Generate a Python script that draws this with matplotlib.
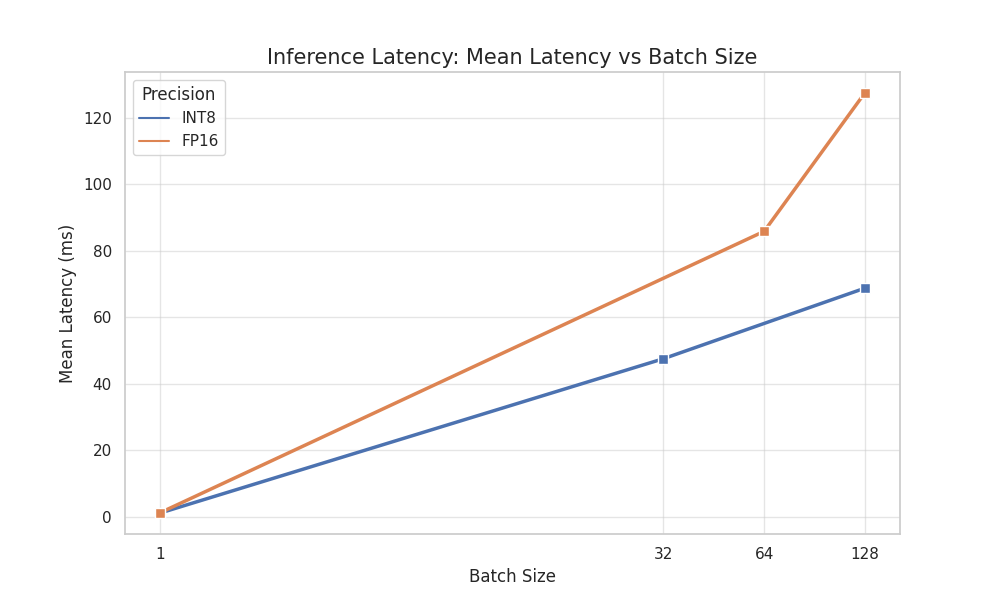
import matplotlib
matplotlib.use("Agg")
import matplotlib.pyplot as plt
import seaborn as sns
from matplotlib.lines import Line2D

sns.set_theme(style="whitegrid")

# Data
int8_batch = [1, 32, 128]
int8_latency = [1.2, 47.6, 68.8]
fp16_batch = [1, 64, 128]
fp16_latency = [1.3, 85.9, 127.5]
tick_batches = [1, 32, 64, 128]

palette = sns.color_palette("deep")
colors = {"INT8": palette[0], "FP16": palette[1]}

fig, ax = plt.subplots(figsize=(10, 6), dpi=100)

for name, xs, ys in [("INT8", int8_batch, int8_latency),
                     ("FP16", fp16_batch, fp16_latency)]:
    ax.plot(xs, ys, color=colors[name], linewidth=2.5, marker="s",
            markersize=7, markeredgecolor="white", markeredgewidth=1,
            label=name)

ax.set_xscale("log", base=2)
ax.set_xticks(tick_batches)
ax.set_xticklabels([str(b) for b in tick_batches])
ax.minorticks_off()
ax.grid(True, alpha=0.5)

ax.set_title("Inference Latency: Mean Latency vs Batch Size", fontsize=15)
ax.set_xlabel("Batch Size", fontsize=12)
ax.set_ylabel("Mean Latency (ms)", fontsize=12)

handles = [Line2D([0], [0], color=colors[n], linewidth=1.5) for n in ("INT8", "FP16")]
ax.legend(handles, ["INT8", "FP16"], title="Precision", loc="upper left",
          fontsize=11, title_fontsize=12)

fig.savefig("out.png")
